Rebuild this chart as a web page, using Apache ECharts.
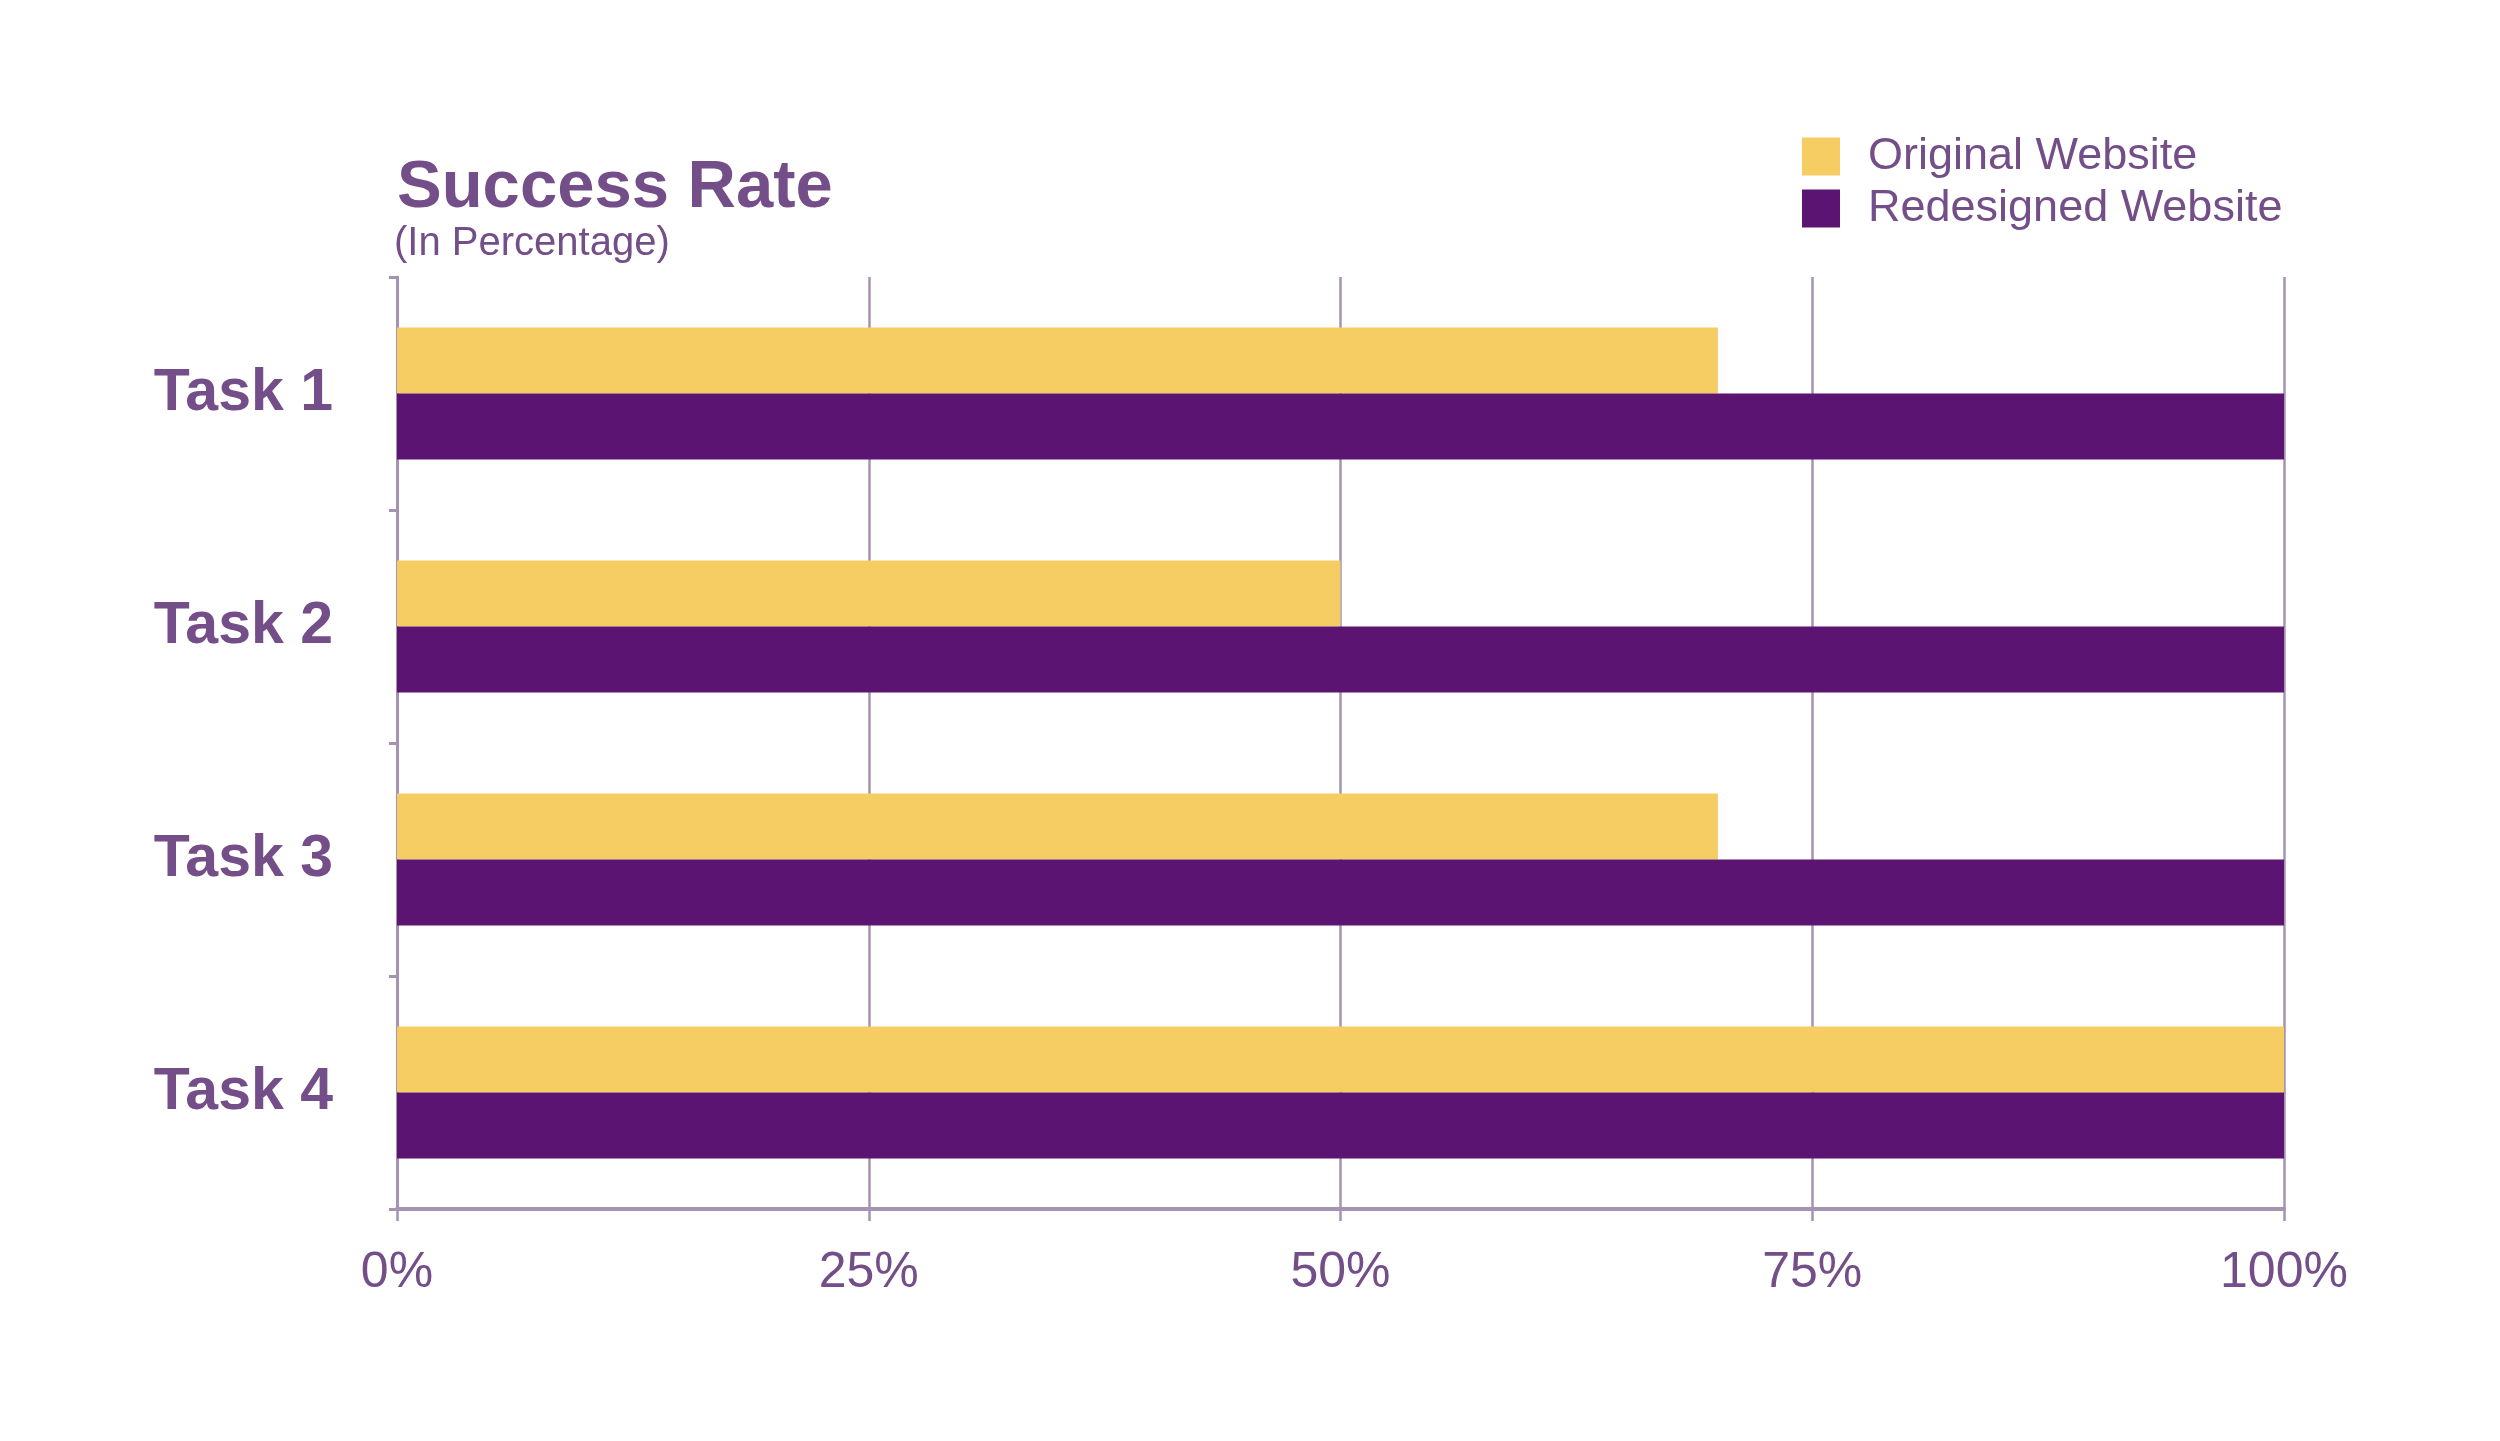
<!DOCTYPE html>
<html>
<head>
<meta charset="utf-8">
<script src="https://cdn.jsdelivr.net/npm/echarts@6/dist/echarts.min.js"></script>
<style>
html,body{margin:0;padding:0;background:#fff;}
#chart{width:2500px;height:1441px;}
</style>
</head>
<body>
<div id="chart"></div>
<script>
const categories = ['Task 1', 'Task 2', 'Task 3', 'Task 4'];
const originalWebsite = [70, 50, 70, 100];
const redesignedWebsite = [100, 100, 100, 100];
const xTicks = [0, 25, 50, 75, 100];

const textColor = '#744e88';
const lineColor = '#a693b3';
const font = '"Liberation Sans", Arial, sans-serif';

const chart = echarts.init(document.getElementById('chart'));
chart.setOption({
  backgroundColor: '#ffffff',
  animation: false,
  textStyle: { fontFamily: font },
  title: [
    {
      text: 'Success Rate',
      left: 397, top: 155, padding: 0,
      textStyle: { color: textColor, fontSize: 67, fontWeight: 'bold', fontFamily: font, lineHeight: 68 }
    },
    {
      text: '(In Percentage)',
      left: 394, top: 223, padding: 0,
      textStyle: { color: textColor, fontSize: 40, fontWeight: 'normal', fontFamily: font, lineHeight: 42 }
    }
  ],
  legend: {
    orient: 'vertical',
    left: 1802, top: 134,
    padding: 0,
    itemWidth: 38, itemHeight: 38, itemGap: 7,
    icon: 'rect',
    textStyle: { color: textColor, fontSize: 45, fontFamily: font, lineHeight: 40, padding: [0, 0, 0, 23] },
    data: ['Original Website', 'Redesigned Website']
  },
  grid: { left: 397, right: 216, top: 277, bottom: 232, containLabel: false },
  xAxis: {
    type: 'value',
    min: xTicks[0], max: xTicks[xTicks.length - 1], interval: 25,
    axisLine: { show: true, onZero: false, lineStyle: { color: lineColor, width: 4 } },
    axisTick: { show: true, length: 12, lineStyle: { color: lineColor, width: 2.5 } },
    splitLine: { show: true, lineStyle: { color: lineColor, width: 2.5 } },
    axisLabel: { color: textColor, fontSize: 50, fontFamily: font, margin: 39, formatter: '{value}%' }
  },
  yAxis: {
    type: 'category',
    inverse: true,
    data: categories,
    axisLine: { show: true, lineStyle: { color: lineColor, width: 3 } },
    axisTick: { show: true, length: 8, lineStyle: { color: lineColor, width: 3 } },
    splitLine: { show: false },
    axisLabel: { color: textColor, fontSize: 59, fontWeight: 'bold', fontFamily: font, margin: 64 }
  },
  series: [
    {
      name: 'Original Website', type: 'bar', data: originalWebsite,
      barWidth: 66, barGap: '0%',
      itemStyle: { color: '#f6cd63' }, z: 3
    },
    {
      name: 'Redesigned Website', type: 'bar', data: redesignedWebsite,
      barWidth: 66, barGap: '0%',
      itemStyle: { color: '#5c1473' }, z: 3
    }
  ]
});
</script>
</body>
</html>
